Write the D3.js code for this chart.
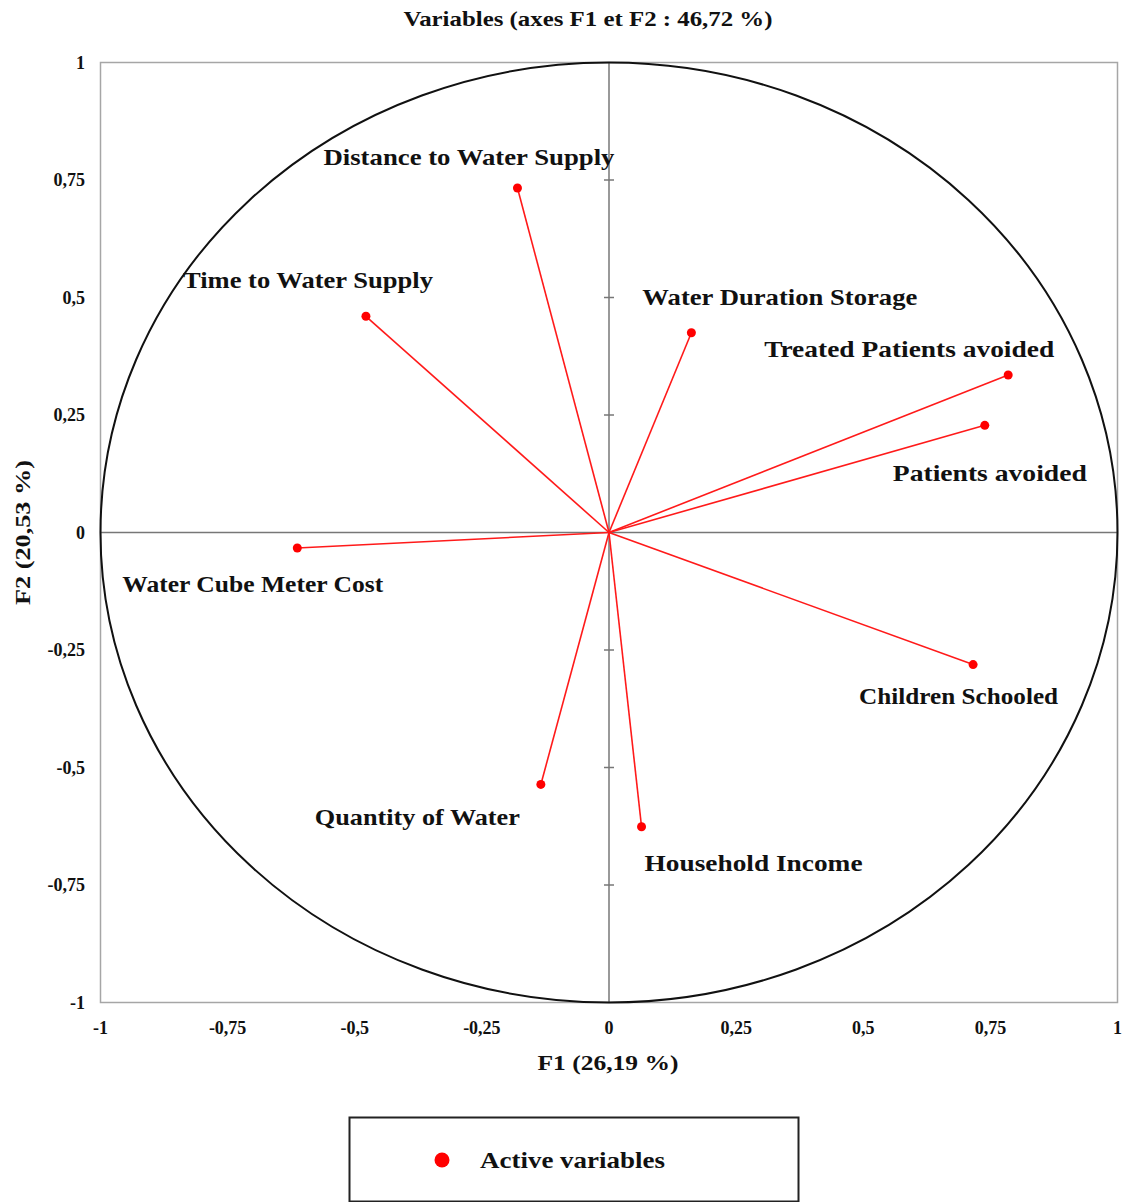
<!DOCTYPE html>
<html>
<head>
<meta charset="utf-8">
<script src="https://cdn.jsdelivr.net/npm/d3@7"></script>
<style>
  html, body { margin: 0; padding: 0; background: #fff; }
  svg { display: block; }
  text { font-family: "Liberation Serif", "Times New Roman", serif; font-weight: bold; fill: #111; }
</style>
</head>
<body>
<svg id="chart" width="1126" height="1202"></svg>
<script>
// Correlation circle: variable loadings on F1 and F2
const variables = [
  "Distance to Water Supply",
  "Time to Water Supply",
  "Water Duration Storage",
  "Treated Patients avoided",
  "Patients avoided",
  "Water Cube Meter Cost",
  "Children Schooled",
  "Quantity of Water",
  "Household Income"
];
const f1 = [-0.180, -0.478, 0.162, 0.785, 0.739, -0.613, 0.716, -0.134, 0.064];
const f2 = [0.733, 0.460, 0.425, 0.335, 0.228, -0.033, -0.281, -0.536, -0.626];

// Label placement offsets (pixels from the point)
const labelDx = [-194, -183, -49, -244, -92, -175, -114, -226, 3];
const labelDy = [-23, -28, -28, -18, 56, 44, 39, 41, 44];
const labelWidths = [291, 250, 275, 290, 194, 261, 199, 205, 218];

const tickValues = [-1, -0.75, -0.5, -0.25, 0, 0.25, 0.5, 0.75, 1];
const tickLabels = ["-1", "-0,75", "-0,5", "-0,25", "0", "0,25", "0,5", "0,75", "1"];

const titleText = "Variables (axes F1 et F2 : 46,72 %)";
const xTitle = "F1 (26,19 %)";
const yTitle = "F2 (20,53 %)";
const legendLabel = "Active variables";

const svg = d3.select("#chart");
const plotLeft = 100.5, plotRight = 1117.5, plotTop = 62.5, plotBottom = 1002.5;

const x = d3.scaleLinear().domain([-1, 1]).range([plotLeft, plotRight]);
const y = d3.scaleLinear().domain([-1, 1]).range([plotBottom, plotTop]);

// Title
svg.append("text")
  .attr("x", 588).attr("y", 26)
  .attr("text-anchor", "middle")
  .attr("font-size", 21)
  .attr("textLength", 369).attr("lengthAdjust", "spacingAndGlyphs")
  .text(titleText);

// Plot frame
svg.append("rect")
  .attr("x", plotLeft).attr("y", plotTop)
  .attr("width", plotRight - plotLeft).attr("height", plotBottom - plotTop)
  .attr("fill", "none").attr("stroke", "#a6a6a6").attr("stroke-width", 1.5);

// Zero axes
svg.append("line")
  .attr("x1", plotLeft).attr("x2", plotRight).attr("y1", y(0)).attr("y2", y(0))
  .attr("stroke", "#777").attr("stroke-width", 1.5);
svg.append("line")
  .attr("x1", x(0)).attr("x2", x(0)).attr("y1", plotTop).attr("y2", plotBottom)
  .attr("stroke", "#777").attr("stroke-width", 1.5);

// Tick marks crossing the vertical zero axis
const inner = tickValues.filter(v => v !== 0 && Math.abs(v) !== 1);
svg.append("g").selectAll("line").data(inner).join("line")
  .attr("x1", x(0) - 5).attr("x2", x(0) + 5)
  .attr("y1", d => y(d)).attr("y2", d => y(d))
  .attr("stroke", "#777").attr("stroke-width", 1.5);

// Axis tick labels
svg.append("g").selectAll("text").data(tickValues).join("text")
  .attr("x", 85).attr("y", d => y(d) + 6)
  .attr("text-anchor", "end")
  .attr("font-size", 18)
  .attr("fill", "#1a1a1a")
  .text((d, i) => tickLabels[i]);
svg.append("g").selectAll("text").data(tickValues).join("text")
  .attr("x", d => x(d)).attr("y", 1034)
  .attr("text-anchor", "middle")
  .attr("font-size", 18)
  .attr("fill", "#1a1a1a")
  .text((d, i) => tickLabels[i]);

// Axis titles
svg.append("text")
  .attr("x", 608).attr("y", 1070)
  .attr("text-anchor", "middle")
  .attr("font-size", 21)
  .attr("textLength", 141).attr("lengthAdjust", "spacingAndGlyphs")
  .text(xTitle);
svg.append("text")
  .attr("transform", `translate(30, ${y(0)}) rotate(-90)`)
  .attr("text-anchor", "middle")
  .attr("font-size", 21)
  .attr("textLength", 145).attr("lengthAdjust", "spacingAndGlyphs")
  .text(yTitle);

// Unit correlation circle
svg.append("ellipse")
  .attr("cx", x(0)).attr("cy", y(0))
  .attr("rx", x(1) - x(0)).attr("ry", y(0) - y(1))
  .attr("fill", "none").attr("stroke", "#111").attr("stroke-width", 2);

// Variable vectors
const data = variables.map((name, i) => ({ name, f1: f1[i], f2: f2[i], i }));
svg.append("g").selectAll("line").data(data).join("line")
  .attr("x1", x(0)).attr("y1", y(0))
  .attr("x2", d => x(d.f1)).attr("y2", d => y(d.f2))
  .attr("stroke", "#ff1a1a").attr("stroke-width", 1.6);
svg.append("g").selectAll("circle").data(data).join("circle")
  .attr("cx", d => x(d.f1)).attr("cy", d => y(d.f2))
  .attr("r", 4.5).attr("fill", "#ff0000");

// Variable labels
svg.append("g").selectAll("text").data(data).join("text")
  .attr("x", d => x(d.f1) + labelDx[d.i])
  .attr("y", d => y(d.f2) + labelDy[d.i])
  .attr("font-size", 23)
  .attr("textLength", d => labelWidths[d.i])
  .attr("lengthAdjust", "spacingAndGlyphs")
  .text(d => d.name);

// Legend
svg.append("rect")
  .attr("x", 349.5).attr("y", 1117.5).attr("width", 449).attr("height", 84)
  .attr("fill", "none").attr("stroke", "#222").attr("stroke-width", 2);
svg.append("circle")
  .attr("cx", 442).attr("cy", 1160).attr("r", 7.5).attr("fill", "#ff0000");
svg.append("text")
  .attr("x", 480).attr("y", 1168)
  .attr("font-size", 23)
  .attr("textLength", 185).attr("lengthAdjust", "spacingAndGlyphs")
  .text(legendLabel);
</script>
</body>
</html>
